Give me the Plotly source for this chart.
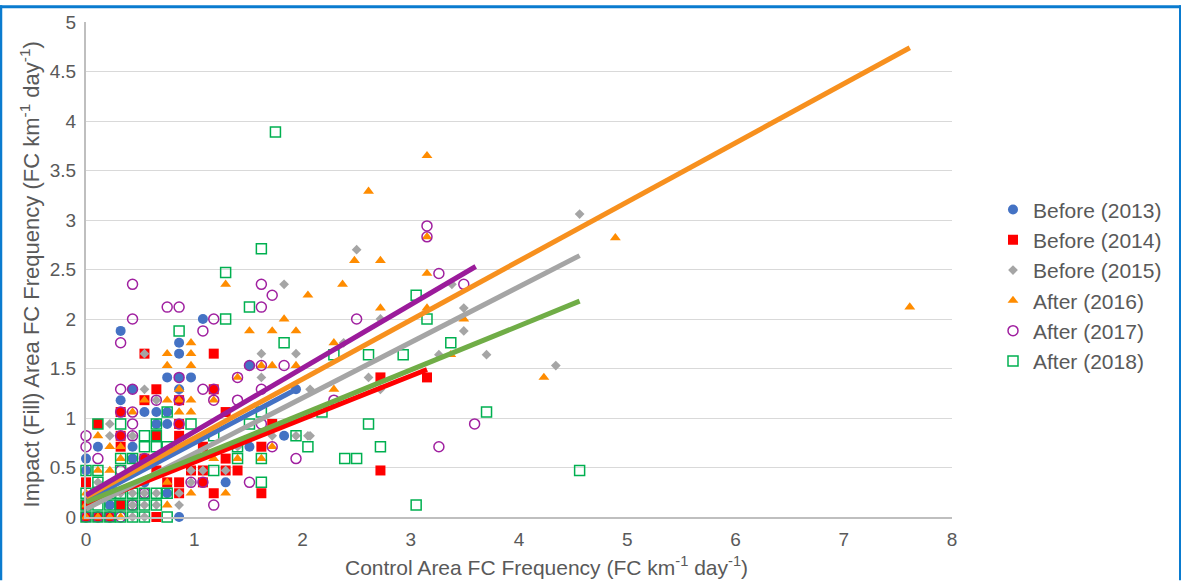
import plotly.graph_objects as go

# ---------------- data ----------------
series_names = ["Before (2013)", "Before (2014)", "Before (2015)",
                "After (2016)", "After (2017)", "After (2018)"]

x_2013 = [0, 0, 0.11, 0.43, 0.43, 0.65, 0.75, 0.75, 0.54, 0.65, 0.32, 0.43, 0.86, 0.75, 0.86,
          0.97, 0.86, 0.86, 0.32, 1.08, 1.51, 1.94, 0.86, 1.29, 1.51, 1.83, 0.75, 0.22, 0.54]
y_2013 = [0.47, 0.59, 0.71, 0.71, 0.59, 0.94, 0.94, 1.06, 1.06, 1.06, 1.18, 1.29, 1.29, 1.41, 1.41,
          1.41, 1.65, 1.76, 1.88, 2.0, 1.53, 1.29, 0, 0.35, 0.71, 0.82, 0.24, 0.12, 0.35]

x_2014 = [0.54, 1.18, 0.65, 1.18, 0.54, 0.86, 0.32, 1.29, 0.11, 0.86,
          0.32, 0.65, 0.86, 0.32, 1.08, 1.62, 0.54, 1.29, 0.97, 1.08,
          1.29, 1.40, 0, 0.75, 0.86, 1.08, 1.18, 1.62, 0.86, 0.65,
          1.72, 0, 0.11, 0.22, 0.32, 0, 0.65, 2.72, 3.15, 2.72]
y_2014 = [1.65, 1.65, 1.29, 1.29, 1.18, 1.18, 1.06, 1.06, 0.94, 0.94,
          0.82, 0.82, 0.82, 0.71, 0.71, 0.71, 0.59, 0.59, 0.47, 0.47,
          0.47, 0.47, 0.35, 0.35, 0.35, 0.35, 0.24, 0.24, 0.24, 0,
          0.94, 0, 0, 0, 0.12, 0.12, 0.47, 1.41, 1.41, 0.47]

x_2015 = [0.54, 1.62, 1.94, 1.62, 0.54, 0.65, 0.22, 0.22, 0.43, 1.72,
          1.94, 2.05, 1.40, 0.97, 1.08, 1.29, 0.11, 0.97, 0.11, 0.32,
          0.43, 0.54, 0.65, 0.43, 0.54, 0.43, 0.54, 0.65, 0.86, 0.86,
          1.83, 2.50, 4.56, 2.72, 3.49, 3.49, 2.38, 3.26, 3.70, 4.34,
          2.61, 2.07, 2.72, 2.07, 3.38]
y_2015 = [1.65, 1.65, 1.65, 1.41, 1.29, 1.18, 0.94, 0.82, 0.82, 0.82,
          0.82, 0.82, 0.71, 0.47, 0.47, 0.47, 0.35, 0.35, 0.24, 0.24,
          0.24, 0.24, 0.24, 0, 0, 0.12, 0.12, 0.12, 0.12, 0.24,
          2.35, 2.70, 3.06, 2.0, 2.11, 1.88, 1.76, 1.64, 1.64, 1.53,
          1.41, 1.29, 1.29, 0.82, 2.35]

x_2016 = [0.97, 1.51, 1.72, 1.94, 0.75, 0.97, 0.75, 0.97, 1.62, 1.72,
          1.94, 1.40, 0.86, 0.54, 0.75, 0.86, 0.97, 1.18, 0.43, 0.86,
          0.97, 0.11, 0.22, 0.32, 1.72, 0.32, 1.18, 1.40, 1.62, 0.11,
          0.22, 0.75, 0, 0.11, 0.22, 0.97, 1.29, 0, 0.75, 0,
          0.11, 0.22, 0.32, 1.83, 1.29, 2.05, 2.37, 2.48,
          2.72, 2.61, 3.15, 3.15, 4.89, 3.15, 2.72, 3.15, 3.49, 2.29,
          3.37, 4.23, 2.29, 7.61]
y_2016 = [1.76, 1.88, 1.88, 1.88, 1.65, 1.65, 1.53, 1.53, 1.53, 1.53,
          1.53, 1.41, 1.29, 1.18, 1.18, 1.18, 1.18, 1.18, 1.06, 1.06,
          1.06, 0.82, 0.71, 0.71, 0.71, 0.59, 0.59, 0.59, 0.59, 0.47,
          0.47, 0.35, 0.24, 0.24, 0.24, 0.24, 0.24, 0.12, 0.12, 0,
          0, 0, 0, 2.0, 2.35, 2.24, 2.35, 2.59,
          2.59, 3.29, 3.65, 2.83, 2.82, 2.46, 2.11, 2.11, 2.0, 1.76,
          1.64, 1.41, 1.29, 2.12]

x_2017 = [0.75, 0.86, 1.62, 0.43, 1.18, 0.32, 1.08, 0.43, 1.62, 1.72,
          1.83, 1.51, 1.62, 1.40, 0.86, 0.32, 0.43, 1.08, 1.18, 1.62,
          0.65, 0.86, 1.18, 1.40, 0.32, 0.43, 0.43, 0.86, 0, 0.32,
          0.43, 0, 1.72, 0.11, 0.54, 1.94, 0.32, 1.62, 0.97, 1.08,
          1.51, 1.18, 0, 0.11, 0.22, 0.32, 0.43, 0.54,
          3.15, 3.15, 3.26, 3.49, 2.50, 2.29, 3.59, 3.26]
y_2017 = [2.12, 2.12, 2.12, 2.0, 2.0, 1.76, 1.88, 2.35, 2.35, 2.24,
          1.53, 1.53, 1.53, 1.41, 1.41, 1.29, 1.29, 1.29, 1.29, 1.29,
          1.18, 1.18, 1.18, 1.18, 1.06, 1.06, 0.94, 0.94, 0.82, 0.82,
          0.82, 0.71, 0.71, 0.59, 0.59, 0.59, 0.47, 0.94, 0.35, 0.35,
          0.35, 0.12, 0, 0, 0, 0, 0.12, 0.24,
          2.94, 2.83, 2.46, 2.35, 2.0, 1.18, 0.94, 0.71]

x_2018 = [1.51, 1.29, 1.62, 1.29, 1.83, 0.86, 0.75, 0.11, 0.32, 0.65,
          0.97, 0.54, 0.65, 1.18, 1.94, 0.54, 0.65, 0.75, 1.40, 2.05,
          0.32, 0.43, 1.40, 1.62, 0, 0.11, 0.32, 1.18, 0.11, 1.62,
          0, 0.11, 0.22, 0.32, 0.43, 0.54, 0.65, 0.75, 0, 0.11,
          0.22, 0.32, 0.43, 0.54, 0.65, 0, 0.11, 0.22, 0.32, 0.43,
          0.54, 0.75, 1.62, 1.51,
          1.75, 3.15, 3.05, 3.37, 2.29, 2.61, 2.93, 2.18, 3.70, 2.61,
          2.72, 2.39, 2.50, 4.56, 3.05]
y_2018 = [2.12, 2.47, 2.71, 2.0, 1.76, 1.88, 1.06, 0.94, 0.94, 0.94,
          0.94, 0.82, 0.82, 0.82, 0.82, 0.71, 0.71, 0.71, 0.71, 0.71,
          0.59, 0.59, 0.59, 0.59, 0.47, 0.47, 0.47, 0.47, 0.35, 0.35,
          0.24, 0.24, 0.24, 0.24, 0.24, 0.24, 0.24, 0.24, 0.12, 0.12,
          0.12, 0.12, 0.12, 0.12, 0.12, 0, 0, 0, 0, 0,
          0, 0, 1.06, 0.94,
          3.89, 2.0, 2.24, 1.76, 1.64, 1.64, 1.64, 1.06, 1.06, 0.94,
          0.71, 0.59, 0.59, 0.47, 0.12]

# linear trendlines (start at x=0, read end points)
trend_y_start = [0.17, 0.12, 0.08, 0.20, 0.22, 0.15]
trend_x_end = [1.96, 3.15, 4.56, 7.61, 3.60, 4.56]
trend_y_end = [1.30, 1.49, 2.64, 4.74, 2.53, 2.18]

x_ticks = [0, 1, 2, 3, 4, 5, 6, 7, 8]
y_ticks = [0, 0.5, 1, 1.5, 2, 2.5, 3, 3.5, 4, 4.5, 5]
y_tick_labels = ["0", "0.5", "1", "1.5", "2", "2.5", "3", "3.5", "4", "4.5", "5"]

# ---------------- styling ----------------
FONT = "Liberation Sans, Arial, sans-serif"
TXT = "#595959"
marker_styles = [
    dict(symbol="circle", size=10, color="#4472C4"),
    dict(symbol="square", size=10, color="#FF0000"),
    dict(symbol="diamond", size=7.5, color="#A5A5A5"),
    dict(symbol="triangle-up", size=9.5, color="#FF8C00"),
    dict(symbol="circle-open", size=10, color="#A020A0", line=dict(width=1.5, color="#A020A0")),
    dict(symbol="square-open", size=10, color="#00B050", line=dict(width=1.5, color="#00B050")),
]
line_colors = ["#4472C4", "#FF0000", "#A5A5A5", "#F7901E", "#9B1B9B", "#70AD47"]

xs = [x_2013, x_2014, x_2015, x_2016, x_2017, x_2018]
ys = [y_2013, y_2014, y_2015, y_2016, y_2017, y_2018]

fig = go.Figure()
for name, x, y, m in zip(series_names, xs, ys, marker_styles):
    fig.add_trace(go.Scatter(x=x, y=y, mode="markers", name=name, marker=m,
                             cliponaxis=False))
for i in range(6):
    fig.add_trace(go.Scatter(x=[0, trend_x_end[i]], y=[trend_y_start[i], trend_y_end[i]],
                             mode="lines", line=dict(color=line_colors[i], width=5),
                             showlegend=False, hoverinfo="skip", cliponaxis=False))

L, R, T, B = 86, 229, 17, 64
W, H = 1181, 581
pw, ph = W - L - R, H - T - B


def px(xp):
    return (xp - L) / pw


def py(yp):
    return (H - B - yp) / ph


border = "#0A7BCF"
fig.add_shape(type="line", xref="paper", yref="paper", x0=px(1), x1=px(1), y0=py(0), y1=py(581),
              line=dict(color=border, width=2.5))
fig.add_shape(type="line", xref="paper", yref="paper", x0=px(0), x1=px(1181), y0=py(1.5), y1=py(1.5),
              line=dict(color=border, width=3))
fig.add_shape(type="line", xref="paper", yref="paper", x0=px(1180), x1=px(1180), y0=py(0), y1=py(581),
              line=dict(color=border, width=2))

fig.add_annotation(text="Control Area FC Frequency (FC km<sup>-1</sup> day<sup>-1</sup>)",
                   xref="paper", yref="paper", x=px(546), y=py(566), showarrow=False,
                   xanchor="center", yanchor="middle", font=dict(family=FONT, size=21, color=TXT))
fig.add_annotation(text="Impact (Fill) Area FC Frequency (FC km<sup>-1</sup> day<sup>-1</sup>)",
                   xref="paper", yref="paper", x=px(30), y=py(272), showarrow=False, textangle=-90,
                   xanchor="center", yanchor="middle", font=dict(family=FONT, size=22, color=TXT))

fig.update_layout(
    width=W, height=H,
    margin=dict(l=L, r=R, t=T, b=B, pad=0),
    paper_bgcolor="white", plot_bgcolor="white",
    font=dict(family=FONT, color=TXT, size=19),
    showlegend=True,
    legend=dict(x=px(993), y=py(283), xanchor="left", yanchor="middle",
                font=dict(family=FONT, size=21, color=TXT), bgcolor="rgba(0,0,0,0)",
                itemsizing="trace", tracegroupgap=0),
    xaxis=dict(range=[0, 8], tickvals=x_ticks, showgrid=False, zeroline=False,
               showline=True, linecolor="#BFBFBF", linewidth=2, ticks="",
               tickfont=dict(family=FONT, size=19, color=TXT), ticklabelstandoff=4),
    yaxis=dict(range=[0, 5], tickvals=y_ticks, ticktext=y_tick_labels, showgrid=True,
               gridcolor="#D9D9D9", gridwidth=1, zeroline=False,
               showline=True, linecolor="#BFBFBF", linewidth=2, ticks="",
               tickfont=dict(family=FONT, size=19, color=TXT), ticklabelstandoff=4),
)

fig.write_html("out.html", config={"displayModeBar": False},
               post_script="document.body.style.margin='0px';document.body.style.overflow='hidden';")
